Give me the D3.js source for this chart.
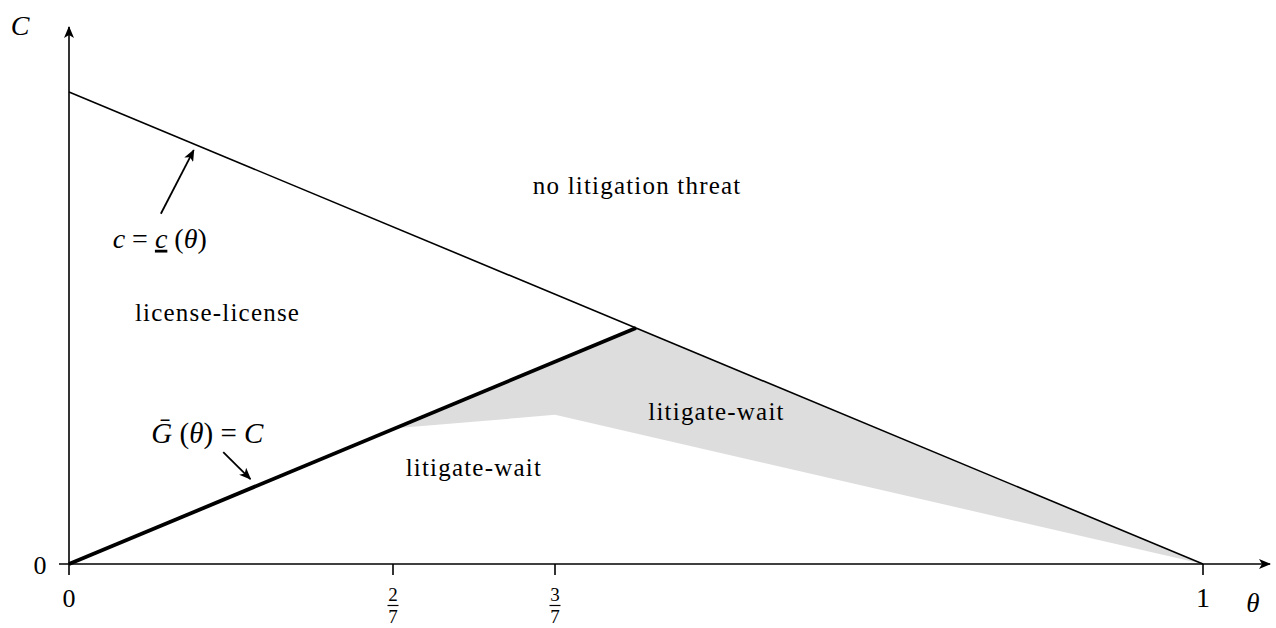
<!DOCTYPE html>
<html>
<head>
<meta charset="utf-8">
<script src="https://cdn.jsdelivr.net/npm/d3@7"></script>
<style>
  body { margin: 0; background: #fff; }
  text { font-family: "Liberation Serif", "DejaVu Serif", serif; fill: #000; }
</style>
</head>
<body>
<svg width="1276" height="628"></svg>
<script>
var width = 1276,
  height = 628;

// boundary c = c_(theta), falls from 1 to 0
var upperLine = [[0, 1], [1, 0]];
// G(theta) = C, thick, up to the kink
var thickLine = [[0, 0], [0.5, 0.5]];
// grey litigate-wait area
var shaded = [[0.29, 0.288], [3 / 7, 0.316], [1, 0], [0.5, 0.5]];

var xTicks = [2 / 7, 3 / 7];
var xTickNum = ["2", "3"];
var xTickDen = ["7", "7"];

var regionLabels = [
  { text: "no litigation threat", x: 0.501, y: 0.784 },
  { text: "license-license", x: 0.131, y: 0.515 },
  { text: "litigate-wait", x: 0.571, y: 0.305 },
  { text: "litigate-wait", x: 0.357, y: 0.186 }
];

var x = d3.scaleLinear().domain([0, 1]).range([69, 1203]);
var y = d3.scaleLinear().domain([0, 1]).range([564, 92]);

var svg = d3.select("svg");

var defs = svg.append("defs");
defs.append("marker")
  .attr("id", "head")
  .attr("viewBox", "0 0 12 10")
  .attr("refX", 11).attr("refY", 5)
  .attr("markerWidth", 12).attr("markerHeight", 10)
  .attr("markerUnits", "userSpaceOnUse")
  .attr("orient", "auto")
  .append("path")
  .attr("d", "M0,0 L12,5 L0,10 L3,5 Z")
  .attr("fill", "#000");

var line = d3.line().x((d) => x(d[0])).y((d) => y(d[1]));

svg.append("path")
  .attr("d", line(shaded) + "Z")
  .attr("fill", "#dddddd");

// axes
svg.append("line")
  .attr("x1", x(0) - 10).attr("y1", y(0))
  .attr("x2", 1270).attr("y2", y(0))
  .attr("stroke", "#000").attr("stroke-width", 1.6)
  .attr("marker-end", "url(#head)");
svg.append("line")
  .attr("x1", x(0)).attr("y1", y(0) + 11)
  .attr("x2", x(0)).attr("y2", 27)
  .attr("stroke", "#000").attr("stroke-width", 1.6)
  .attr("marker-end", "url(#head)");

svg.selectAll(".tick")
  .data(xTicks.concat([1]))
  .enter()
  .append("line")
  .attr("x1", (d) => x(d)).attr("x2", (d) => x(d))
  .attr("y1", y(0)).attr("y2", y(0) + 11)
  .attr("stroke", "#000").attr("stroke-width", 1.6);

svg.append("path")
  .attr("d", line(upperLine))
  .attr("fill", "none").attr("stroke", "#000").attr("stroke-width", 1.6);
svg.append("path")
  .attr("d", line(thickLine))
  .attr("fill", "none").attr("stroke", "#000").attr("stroke-width", 3.8);

// tick labels
svg.append("text").attr("x", x(0)).attr("y", 607)
  .attr("text-anchor", "middle").attr("font-size", 26).text("0");
svg.append("text").attr("x", 1203).attr("y", 607)
  .attr("text-anchor", "middle").attr("font-size", 28).text("1");
svg.append("text").attr("x", 40).attr("y", 574)
  .attr("text-anchor", "middle").attr("font-size", 26).text("0");

var frac = svg.selectAll(".frac").data(xTicks).enter().append("g");
frac.append("text")
  .attr("x", (d) => x(d)).attr("y", 601)
  .attr("text-anchor", "middle").attr("font-size", 19)
  .text((d, i) => xTickNum[i]);
frac.append("line")
  .attr("x1", (d) => x(d) - 5.5).attr("x2", (d) => x(d) + 5.5)
  .attr("y1", 605.5).attr("y2", 605.5)
  .attr("stroke", "#000").attr("stroke-width", 1.2);
frac.append("text")
  .attr("x", (d) => x(d)).attr("y", 623)
  .attr("text-anchor", "middle").attr("font-size", 19)
  .text((d, i) => xTickDen[i]);

// axis titles
svg.append("text").attr("x", 1253).attr("y", 612)
  .attr("text-anchor", "middle").attr("font-size", 27)
  .attr("font-style", "italic").text("θ");
svg.append("text").attr("x", 20).attr("y", 35)
  .attr("text-anchor", "middle").attr("font-size", 28)
  .attr("font-style", "italic").text("C");

svg.selectAll(".region")
  .data(regionLabels)
  .enter()
  .append("text")
  .attr("x", (d) => x(d.x))
  .attr("y", (d) => y(d.y))
  .attr("text-anchor", "middle")
  .attr("font-size", 25)
  .attr("letter-spacing", 1.2)
  .text((d) => d.text);

// c = c(theta) with arrow
var lab1 = svg.append("text").attr("x", x(0.08)).attr("y", y(0.67))
  .attr("text-anchor", "middle").attr("font-size", 28);
lab1.append("tspan").attr("font-style", "italic").text("c");
lab1.append("tspan").text(" = ");
lab1.append("tspan").attr("font-style", "italic")
  .attr("text-decoration", "underline").text("c");
lab1.append("tspan").text(" (");
lab1.append("tspan").attr("font-style", "italic").text("θ");
lab1.append("tspan").text(")");

svg.append("line")
  .attr("x1", x(0.081)).attr("y1", y(0.742))
  .attr("x2", x(0.110)).attr("y2", y(0.877))
  .attr("stroke", "#000").attr("stroke-width", 1.8)
  .attr("marker-end", "url(#head)");

// G(theta) = C with arrow
var lab2 = svg.append("text").attr("x", x(0.122)).attr("y", y(0.256))
  .attr("text-anchor", "middle").attr("font-size", 29);
lab2.append("tspan").attr("font-style", "italic").text("Ḡ");
lab2.append("tspan").text(" (");
lab2.append("tspan").attr("font-style", "italic").text("θ");
lab2.append("tspan").text(") = ");
lab2.append("tspan").attr("font-style", "italic").text("C");

svg.append("line")
  .attr("x1", x(0.136)).attr("y1", y(0.237))
  .attr("x2", x(0.160)).attr("y2", y(0.180))
  .attr("stroke", "#000").attr("stroke-width", 1.8)
  .attr("marker-end", "url(#head)");
</script>
</body>
</html>
